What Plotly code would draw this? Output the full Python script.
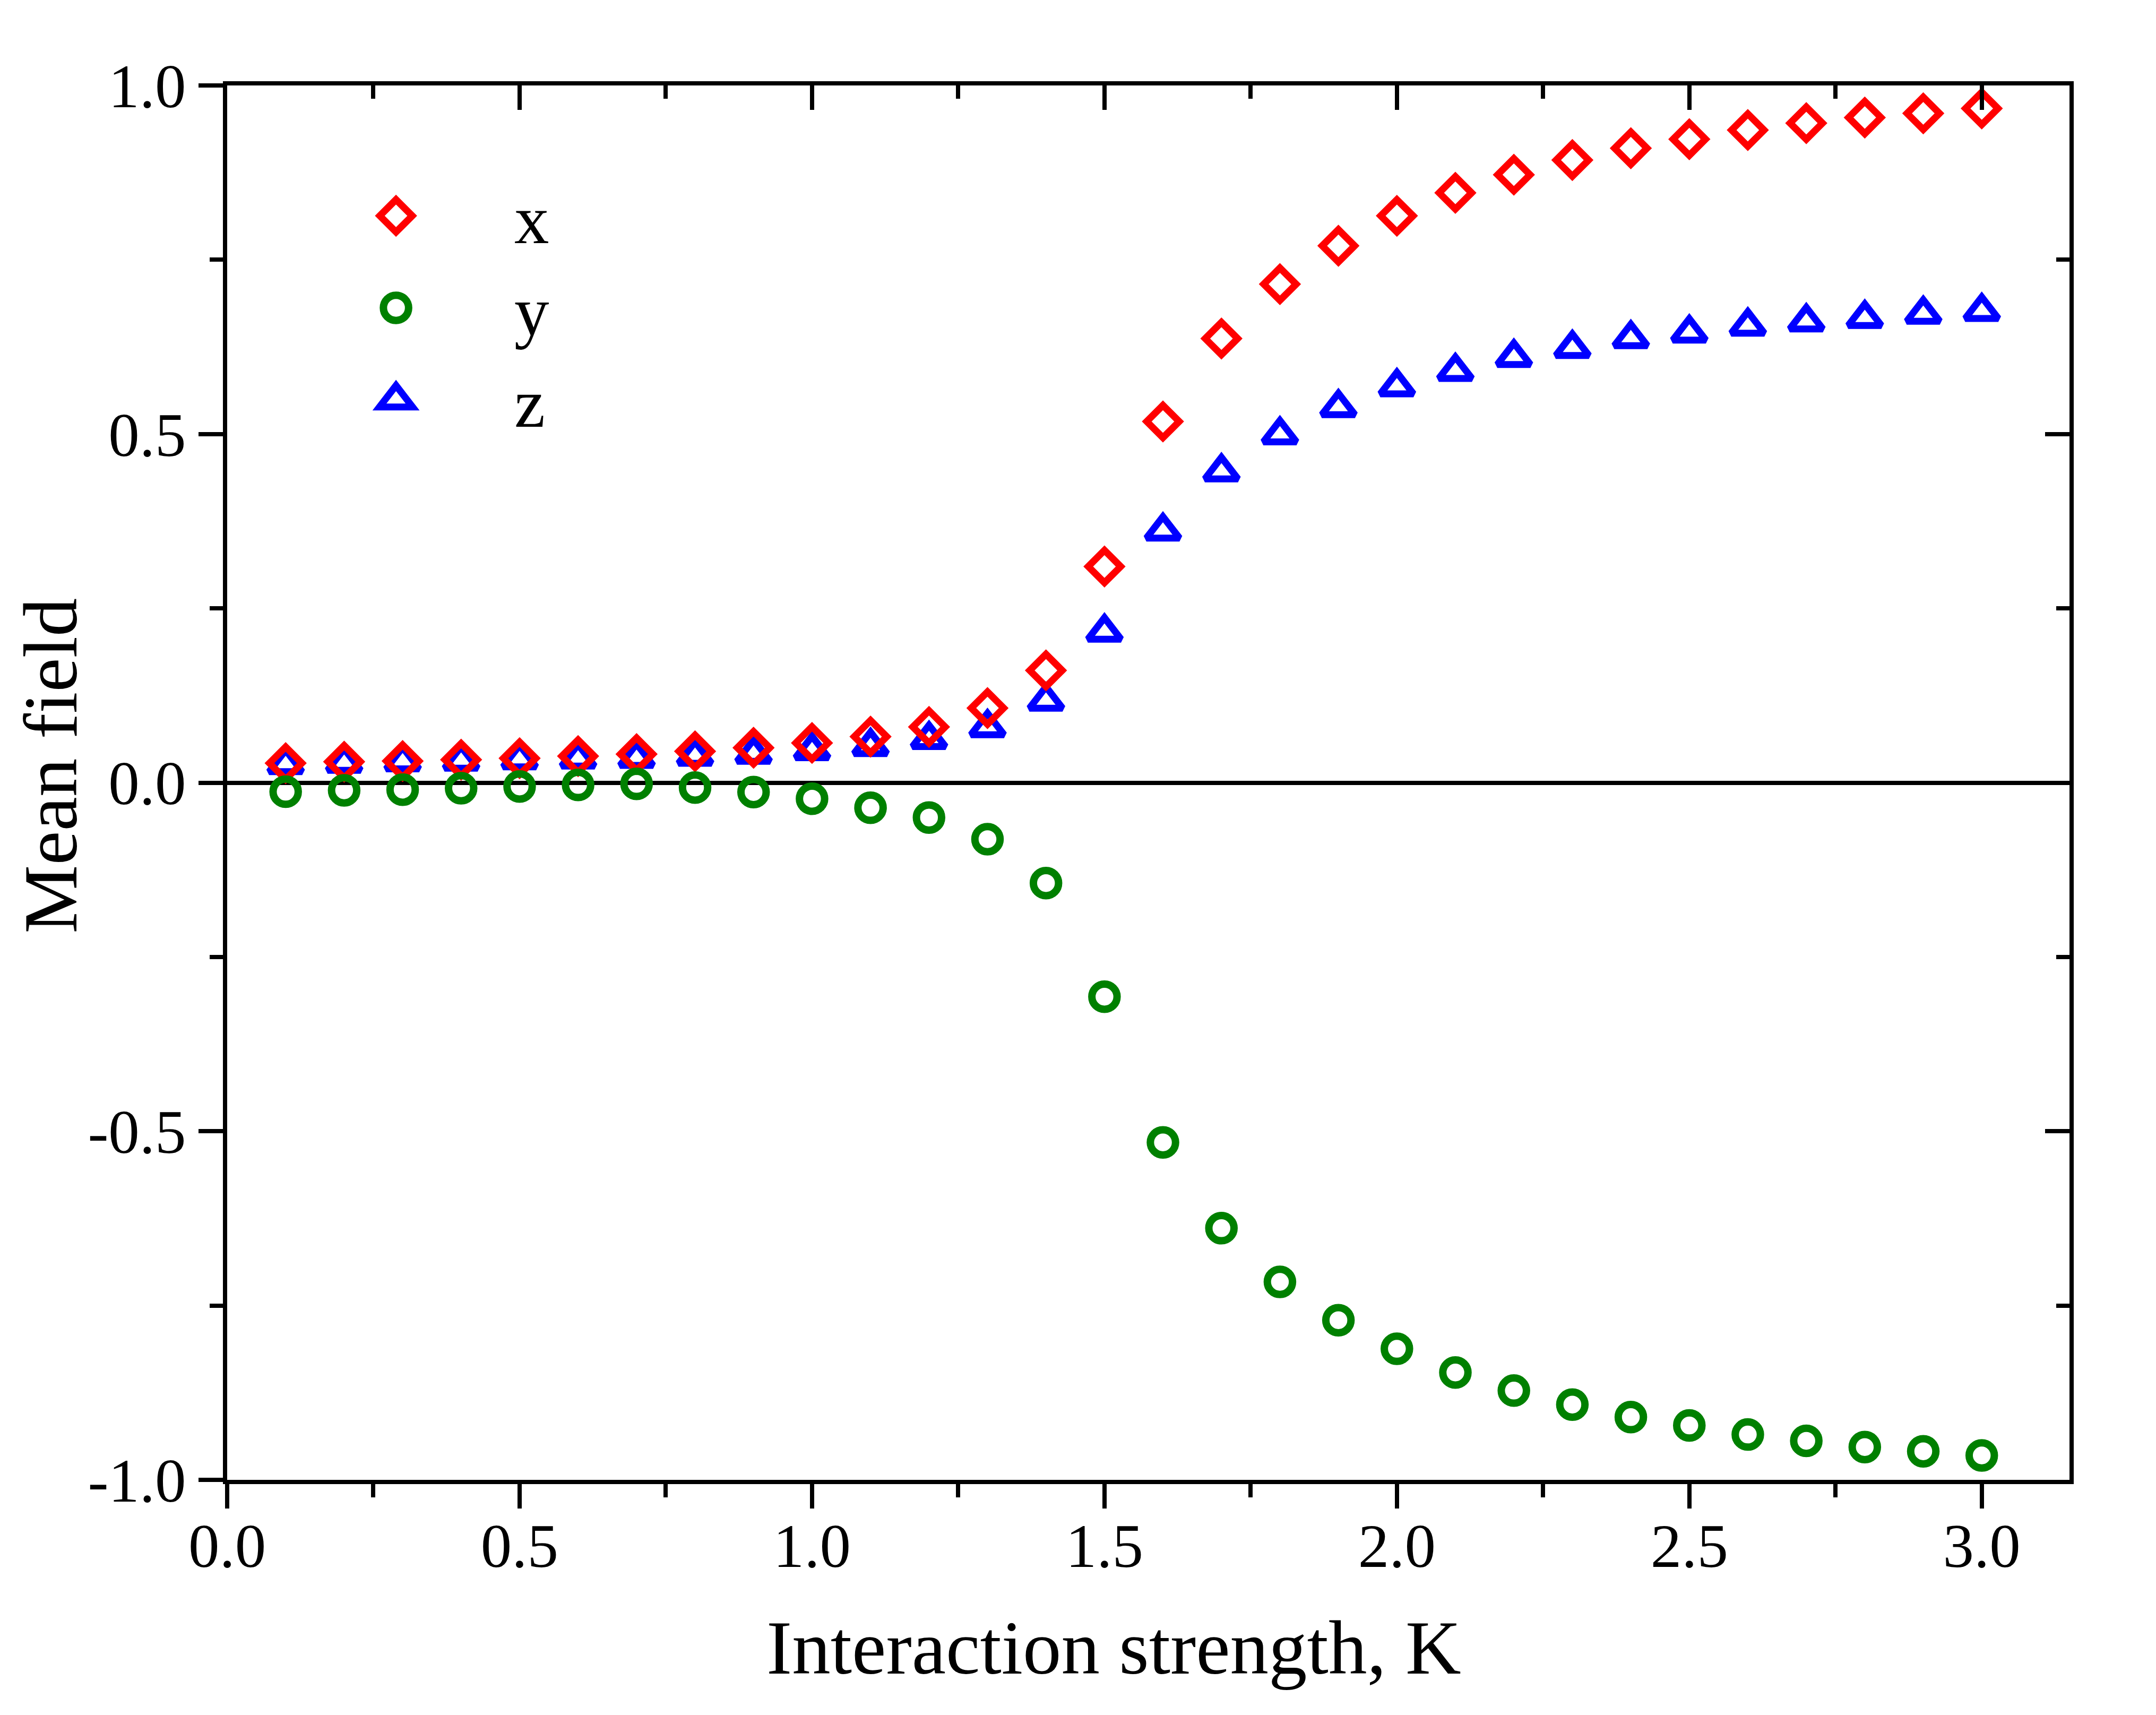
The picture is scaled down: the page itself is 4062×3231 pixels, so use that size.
import plotly.graph_objects as go

# ---- data ----
K = [0.1, 0.2, 0.3, 0.4, 0.5, 0.6, 0.7, 0.8, 0.9, 1.0,
     1.1, 1.2, 1.3, 1.4, 1.5, 1.6, 1.7, 1.8, 1.9, 2.0,
     2.1, 2.2, 2.3, 2.4, 2.5, 2.6, 2.7, 2.8, 2.9, 3.0]

x_vals = [0.028, 0.030, 0.031, 0.033, 0.035, 0.038, 0.041, 0.045, 0.050, 0.057,
          0.066, 0.080, 0.107, 0.161, 0.310, 0.518, 0.637, 0.715, 0.770, 0.813,
          0.846, 0.872, 0.893, 0.910, 0.923, 0.936, 0.946, 0.954, 0.960, 0.967]

y_vals = [-0.013, -0.011, -0.010, -0.008, -0.0055, -0.0033, -0.0018, -0.007, -0.0135, -0.023,
          -0.036, -0.050, -0.081, -0.144, -0.307, -0.516, -0.639, -0.716, -0.771, -0.812,
          -0.846, -0.872, -0.892, -0.910, -0.922, -0.935, -0.944, -0.953, -0.959, -0.965]

z_vals = [0.026, 0.028, 0.030, 0.031, 0.033, 0.034, 0.035, 0.038, 0.041, 0.046,
          0.052, 0.062, 0.079, 0.117, 0.216, 0.361, 0.446, 0.499, 0.538, 0.568,
          0.590, 0.610, 0.623, 0.637, 0.645, 0.655, 0.661, 0.666, 0.672, 0.676]

x_tickvals = [0.0, 0.5, 1.0, 1.5, 2.0, 2.5, 3.0]
x_ticktext = ["0.0", "0.5", "1.0", "1.5", "2.0", "2.5", "3.0"]
y_tickvals = [-1.0, -0.5, 0.0, 0.5, 1.0]
y_ticktext = ["-1.0", "-0.5", "0.0", "0.5", "1.0"]

x_title = "Interaction strength, K"
y_title = "Mean field"

FONT = "Liberation Serif, Times New Roman, serif"
W, H = 4062, 3231

fig = go.Figure()

# drawing order: z (bottom), x, y (top); legend order x, y, z
fig.add_trace(go.Scatter(
    x=K, y=z_vals, name="z", mode="markers", legendrank=3,
    marker=dict(symbol="triangle-up-open", size=54, color="#0000FF",
                line=dict(width=13, color="#0000FF")),
))
fig.add_trace(go.Scatter(
    x=K, y=x_vals, name="x", mode="markers", legendrank=1,
    marker=dict(symbol="diamond-open", size=47, color="#FF0000",
                line=dict(width=13, color="#FF0000")),
))
fig.add_trace(go.Scatter(
    x=K, y=y_vals, name="y", mode="markers", legendrank=2,
    marker=dict(symbol="circle-open", size=47.5, color="#008000",
                line=dict(width=14, color="#008000")),
))
# invisible trace that carries the mirrored (top / right) axes
fig.add_trace(go.Scatter(
    x=K, y=x_vals, xaxis="x2", yaxis="y2", mode="markers",
    marker=dict(opacity=0), showlegend=False, hoverinfo="skip",
))

axis_common = dict(
    showgrid=False, showline=True, linecolor="black", linewidth=8,
    tickcolor="black", tickwidth=8, ticklen=46, automargin=False,
    tickfont=dict(family=FONT, size=117, color="black"),
)

fig.update_layout(
    width=W, height=H,
    margin=dict(l=420, r=171, t=153, b=451, pad=0, autoexpand=False),
    paper_bgcolor="white", plot_bgcolor="white",
    font=dict(family=FONT, color="black"),
    showlegend=True,
    legend=dict(
        x=0.0274, y=0.9414, xanchor="left", yanchor="top",
        bgcolor="rgba(0,0,0,0)", borderwidth=0,
        font=dict(family=FONT, size=131, color="black"),
        itemwidth=436, itemsizing="trace",
    ),
    xaxis=dict(
        **axis_common,
        range=[0, 3.15], ticks="outside",
        tickvals=x_tickvals, ticktext=x_ticktext,
        ticklabelstandoff=-30,
        minor=dict(tick0=0, dtick=0.25, ticks="outside", ticklen=25,
                   tickwidth=8, tickcolor="black", showgrid=False),
        zeroline=False, mirror=False,
    ),
    yaxis=dict(
        **axis_common,
        range=[-1, 1], ticks="outside",
        tickvals=y_tickvals, ticktext=y_ticktext,
        minor=dict(tick0=0, dtick=0.25, ticks="outside", ticklen=25,
                   tickwidth=8, tickcolor="black", showgrid=False),
        zeroline=True, zerolinecolor="black", zerolinewidth=8, mirror=False,
    ),
    xaxis2=dict(
        overlaying="x", side="top", anchor="y2", range=[0, 3.15],
        showgrid=False, zeroline=False, showline=True, linecolor="black",
        linewidth=8, ticks="inside", ticklen=46, tickwidth=8, tickcolor="black",
        tickvals=x_tickvals, showticklabels=False, automargin=False,
        minor=dict(tick0=0, dtick=0.25, ticks="inside", ticklen=25,
                   tickwidth=8, tickcolor="black", showgrid=False),
    ),
    yaxis2=dict(
        overlaying="y", side="right", anchor="x2", range=[-1, 1],
        showgrid=False, zeroline=False, showline=True, linecolor="black",
        linewidth=8, ticks="inside", ticklen=46, tickwidth=8, tickcolor="black",
        tickvals=y_tickvals, showticklabels=False, automargin=False,
        minor=dict(tick0=0, dtick=0.25, ticks="inside", ticklen=25,
                   tickwidth=8, tickcolor="black", showgrid=False),
    ),
    annotations=[
        dict(text=x_title, xref="paper", yref="paper", x=0.4814, y=-0.1203,
             xanchor="center", yanchor="middle", showarrow=False,
             font=dict(family=FONT, size=145, color="black")),
        dict(text=y_title, xref="paper", yref="paper", x=-0.0960, y=0.512,
             xanchor="center", yanchor="middle", showarrow=False, textangle=-90,
             font=dict(family=FONT, size=145, color="black")),
    ],
)

# Plotly caps legend symbol sizes; scale the legend symbols up to the trace size.
post = """
var gd = document.getElementById('{plot_id}');
function enlargeLegend(){
  var items = gd.querySelectorAll('.legend g.traces');
  items.forEach(function(it){
    var d = it.__data__; var tr = d && d[0] && d[0].trace;
    if(!tr || !tr.marker) return;
    var ms = tr.marker.size, lw = (tr.marker.line && tr.marker.line.width) || 2;
    it.querySelectorAll('path.scatterpts').forEach(function(p){
      var s = ms / 16;
      var t = (p.getAttribute('transform') || '').replace(/\\s*scale\\([^)]*\\)/, '');
      p.setAttribute('transform', t + ' scale(' + s + ')');
      p.style.strokeWidth = (lw / s) + 'px';
    });
  });
}
enlargeLegend();
gd.on('plotly_afterplot', enlargeLegend);
setTimeout(enlargeLegend, 200);
"""

fig.write_html("out.html", post_script=post, config={"displayModeBar": False})
